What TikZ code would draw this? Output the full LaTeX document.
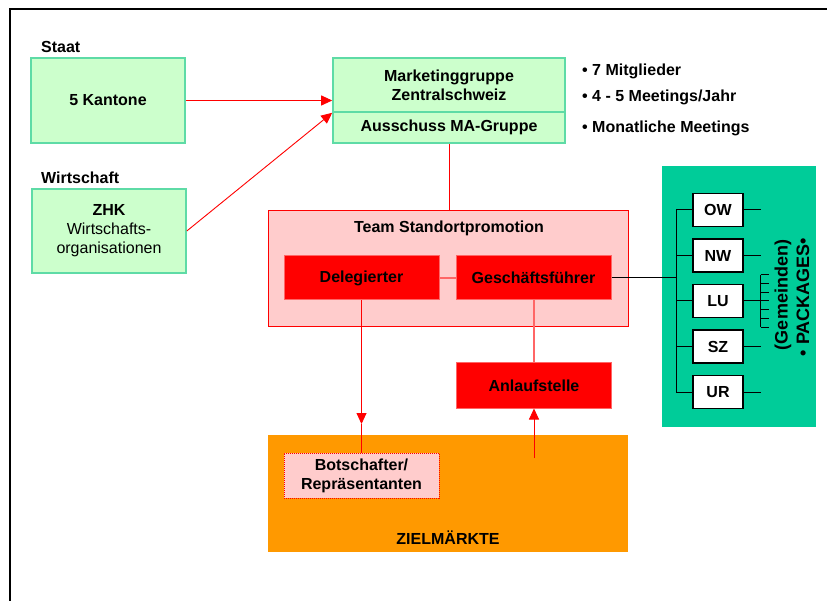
\documentclass[tikz,border=0pt]{standalone}
\usepackage{fontspec}
\setmainfont{Liberation Sans}
\usetikzlibrary{arrows.meta}
\definecolor{paleGreen}{HTML}{CCFFCC}
\definecolor{greenEdge}{HTML}{5EDBA6}
\definecolor{panelTeal}{HTML}{00CC99}
\definecolor{paleRed}{HTML}{FFCCCC}
\definecolor{linkRed}{HTML}{FF6666}
\definecolor{zielOrange}{HTML}{FF9900}
\tikzset{
  every node/.style={font=\fontsize{16}{19}\selectfont\bfseries, inner sep=0pt},
  greenbox/.style={draw=greenEdge, line width=1.6pt, fill=paleGreen, align=center},
  redbox/.style={draw=linkRed, line width=1pt, fill=red, minimum width=155pt, minimum height=44pt},
  unitbox/.style={draw=black, line width=1.2pt, fill=white, minimum width=50pt, minimum height=33pt},
  label/.style={anchor=west},
  redarrow/.style={draw=red, line width=0.9pt, -{Triangle[length=11pt,width=10pt]}},
  redlink/.style={draw=red, line width=0.9pt},
  softlink/.style={draw=linkRed, line width=1.6pt},
  unitlink/.style={draw=black, line width=1pt},
}
\begin{document}
\begin{tikzpicture}[x=1pt, y=-1pt]
\useasboundingbox (0,0) rectangle (827,601);
% outer frame
\draw[line width=1.6pt] (10,601) -- (10,9) -- (827,9);

% sponsors
\node[label] (staat) at (41,47) {Staat};
\node[greenbox, minimum width=154pt, minimum height=85pt] (kant) at (108,100.5) {5 Kantone};
\node[label] (wirt) at (41,178) {Wirtschaft};
\node[greenbox, minimum width=154pt, minimum height=84pt] (zhk) at (109,231)
  {\fontsize{16}{23}\selectfont ZHK\\\mdseries Wirtschafts-\\\mdseries organisationen};

% marketing group
\node[greenbox, minimum width=232pt, minimum height=54pt] (mktop) at (449,85)
  {\fontsize{16}{21}\selectfont Marketinggruppe\\Zentralschweiz};
\node[greenbox, minimum width=232pt, minimum height=31pt] (mkbot) at (449,127.5) {Ausschuss MA-Gruppe};
\node[label] (b1) at (582,71) {• 7 Mitglieder};
\node[label] (b2) at (582,97) {• 4 - 5 Meetings/Jahr};
\node[label] (b3) at (582,128) {• Monatliche Meetings};

\draw[redarrow] (kant.east) -- (kant.east -| mktop.west);
\draw[redarrow] (zhk.east) -- (mktop.south west);

% team
\node[draw=red, line width=1pt, fill=paleRed, minimum width=360pt, minimum height=116pt] (team) at (448,269) {};
\node (teamt) at (449,228) {Team Standortpromotion};
\node[redbox] (del) at (361.5,278) {Delegierter};
\node[redbox] (gf) at (533.5,278) {Geschäftsführer};
\draw[redlink] (mkbot.south) -- (mkbot.south |- team.north);
\draw[softlink] (del.east) -- (gf.west);

% target markets
\node[fill=zielOrange, minimum width=360pt, minimum height=117pt] (ziel) at (448,493.5) {};
\node (zielt) at (448,538) {ZIELMÄRKTE};
\node[draw=red, densely dotted, line width=1pt, fill=paleRed, minimum width=155pt, minimum height=45pt, align=center] (bot) at (361.5,475.5)
  {\fontsize{16}{23}\selectfont Botschafter/\\Repräsentanten};
\node[redbox, minimum height=45pt] (anl) at (534,385.5) {Anlaufstelle};

\coordinate (delin) at (361.5,424);
\coordinate (anlin) at (534,458);
\draw[redarrow] (del.south) -- (delin);
\draw[redlink] (delin) -- (bot.north);
\draw[softlink] (gf.south -| anl.north) -- (anl.north);
\draw[redarrow] (anlin) -- (anl.south);

% cantons panel
\fill[panelTeal] (662,166) rectangle (816,427);
\node[unitbox] (ow) at (718,210) {OW};
\node[unitbox] (nw) at (718,255.5) {NW};
\node[unitbox] (lu) at (718,301) {LU};
\node[unitbox] (sz) at (718,346.5) {SZ};
\node[unitbox] (ur) at (718,392) {UR};
\draw[unitlink] (ow.west) -- ++(-16,0) coordinate (bustop) |- (ur.west);
\foreach \u in {nw,lu,sz} \draw[unitlink] (\u.west) -- (\u.west -| bustop);
\draw[unitlink] (gf.east) -- (gf.east -| bustop);
\foreach \u in {ow,nw,sz,ur} \draw[unitlink] (\u.east) -- ++(17,0);
\draw[unitlink] (lu.east) -- ++(17,0) coordinate (comb);
\draw[unitlink] (comb) ++(0,-26) -- ++(0,52);
\foreach \k in {-3,...,3} \draw[unitlink] (comb) ++(0,8.7*\k) -- ++(8,0);
\node[rotate=90, font=\fontsize{18}{20}\selectfont\bfseries] (gem) at (783,295) {(Gemeinden)};
\node[rotate=90, font=\fontsize{18}{20}\selectfont\bfseries] (pkg) at (803,297) {• PACKAGES•};
\end{tikzpicture}
\end{document}
